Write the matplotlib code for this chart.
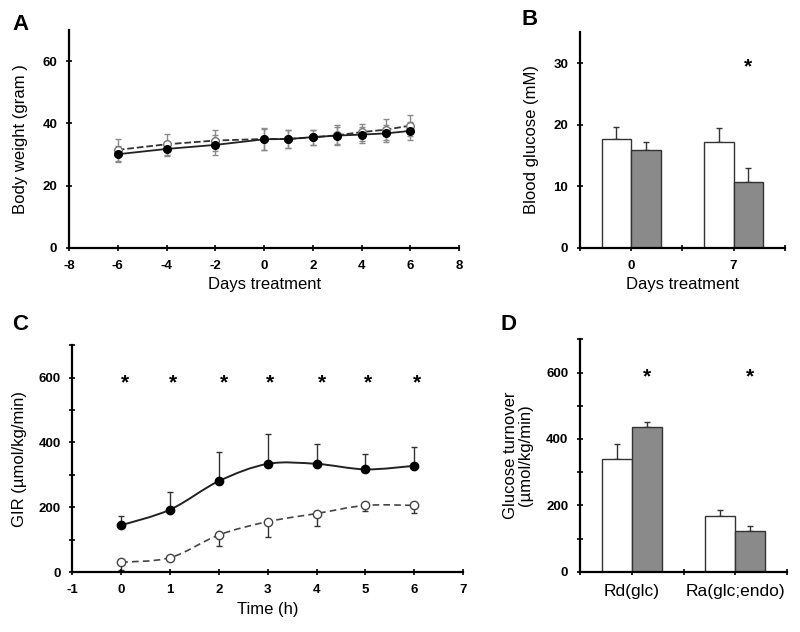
import matplotlib
matplotlib.use("Agg")
import matplotlib.pyplot as plt
import numpy as np
from matplotlib.path import Path
from matplotlib.patches import PathPatch
from matplotlib.ticker import MultipleLocator

plt.rcParams['font.family'] = ['Liberation Sans', 'DejaVu Sans']
plt.rcParams['axes.unicode_minus'] = False

# ---------------- Data ----------------
# Panel A: body weight
days_a = [-6, -4, -2, 0, 1, 2, 3, 4, 5, 6]
bw_open = [31.5, 33.3, 34.5, 35.0, 35.0, 35.5, 36.2, 37.2, 38.0, 39.3]
bw_open_err = [3.5, 3.4, 3.3, 3.4, 2.8, 2.5, 3.2, 2.7, 3.3, 3.5]
bw_filled = [30.1, 31.8, 33.1, 34.9, 35.0, 35.6, 36.1, 36.4, 36.8, 37.6]
bw_filled_err = [2.6, 2.3, 3.2, 3.4, 2.8, 2.4, 2.6, 2.6, 2.8, 2.8]

# Panel B: blood glucose
days_b = ['0', '7']
bg_white = [17.7, 17.2]
bg_white_err = [1.9, 2.3]
bg_gray = [15.8, 10.6]
bg_gray_err = [1.4, 2.4]

# Panel C: GIR
time_c = [0, 1, 2, 3, 4, 5, 6]
gir_filled = [145, 193, 281, 334, 334, 317, 328]
gir_filled_err = [27, 54, 91, 91, 62, 46, 57]
gir_open = [31, 45, 115, 156, 181, 206, 206]
gir_open_err = [25, 8, 33, 48, 37, 18, 24]
star_c_x = [0.07, 1.05, 2.1, 3.05, 4.1, 5.05, 6.05]

# Panel D: glucose turnover
turn_cats = ['Rd(glc)', 'Ra(glc;endo)']
turn_white = [338, 168]
turn_white_err = [46, 17]
turn_gray = [436, 122]
turn_gray_err = [15, 15]

GRAY = '#8a8a8a'
TICKSIZE = 9.5


def style_axes(ax):
    for s in ['top', 'right']:
        ax.spines[s].set_visible(False)
    for s in ['left', 'bottom']:
        ax.spines[s].set_linewidth(1.6)
    ax.tick_params(axis='both', which='both', direction='inout', length=5,
                   width=1.2, labelsize=TICKSIZE, pad=6)
    ax.tick_params(axis='both', which='minor', length=4)
    for lab in ax.get_xticklabels() + ax.get_yticklabels():
        lab.set_fontweight('bold')


def smooth_path(x, y):
    x = np.asarray(x, float)
    y = np.asarray(y, float)
    pts = np.column_stack([x, y])
    n = len(pts)
    verts = [pts[0]]
    codes = [Path.MOVETO]
    for i in range(n - 1):
        p0 = pts[i - 1] if i > 0 else pts[i]
        p1 = pts[i]
        p2 = pts[i + 1]
        p3 = pts[i + 2] if i + 2 < n else pts[i + 1]
        c1 = p1 + (p2 - p0) / 6.0
        c2 = p2 - (p3 - p1) / 6.0
        verts += [c1, c2, p2]
        codes += [Path.CURVE4] * 3
    return Path(verts, codes)


def upper(vals):
    return [np.zeros(len(vals)), vals]


def lower(vals):
    return [vals, np.zeros(len(vals))]


fig = plt.figure(figsize=(8, 6.32), dpi=100)
EB = dict(fmt='none', ecolor='#333333', elinewidth=1.0, capsize=2.5, capthick=1.0, zorder=1)

# ---------------- Panel A ----------------
axA = fig.add_axes([0.08625, 0.6076, 0.4877, 0.345])
axA.errorbar(days_a, bw_open, yerr=bw_open_err, fmt='none', ecolor='#8a8a8a',
             elinewidth=1.0, capsize=2, capthick=1.0, zorder=1)
axA.errorbar(days_a, bw_filled, yerr=bw_filled_err, fmt='none', ecolor='#8a8a8a',
             elinewidth=1.0, capsize=2, capthick=1.0, zorder=1)
axA.plot(days_a, bw_open, linestyle='--', color='#333333', lw=1.3, marker='o',
         markersize=5.5, markerfacecolor='white', markeredgecolor='#777777',
         markeredgewidth=1.0, zorder=2)
axA.plot(days_a, bw_filled, linestyle='-', color='#222222', lw=1.3, marker='o',
         markersize=5.5, markerfacecolor='black', markeredgecolor='black', zorder=3)
axA.set_xlim(-8, 8)
axA.set_ylim(0, 70)
axA.set_xticks(range(-8, 9, 2))
axA.set_yticks([0, 20, 40, 60])
axA.set_xlabel('Days treatment', fontsize=12)
axA.set_ylabel('Body weight (gram )', fontsize=12, labelpad=10)
style_axes(axA)

# ---------------- Panel B ----------------
axB = fig.add_axes([0.725, 0.608, 0.256, 0.341])
w = 0.29
xb = np.arange(len(days_b))
axB.bar(xb - w / 2, bg_white, w, color='white', edgecolor='#333333', lw=1.0, zorder=2)
axB.errorbar(xb - w / 2, bg_white, yerr=upper(bg_white_err), **EB)
axB.bar(xb + w / 2, bg_gray, w, color=GRAY, edgecolor='#333333', lw=1.0, zorder=2)
axB.errorbar(xb + w / 2, bg_gray, yerr=upper(bg_gray_err), **EB)
axB.set_xlim(-0.5, 1.5)
axB.set_ylim(0, 35)
axB.set_yticks([0, 10, 20, 30])
axB.set_xticks(xb)
axB.set_xticklabels(days_b)
axB.xaxis.set_minor_locator(MultipleLocator(0.5))
axB.text(1 + w / 2, 29.3, '*', ha='center', va='center', fontsize=15, fontweight='bold')
axB.set_xlabel('Days treatment', fontsize=12)
axB.set_ylabel('Blood glucose (mM)', fontsize=12, labelpad=10)
style_axes(axB)

# ---------------- Panel C ----------------
axC = fig.add_axes([0.0904, 0.0945, 0.4886, 0.3595])
axC.errorbar(time_c, gir_filled, yerr=upper(gir_filled_err), **EB)
axC.errorbar(time_c, gir_open, yerr=lower(gir_open_err), **EB)
axC.add_patch(PathPatch(smooth_path(time_c, gir_filled), fill=False, edgecolor='#222222',
                        lw=1.4, zorder=2))
axC.add_patch(PathPatch(smooth_path(time_c, gir_open), fill=False, edgecolor='#444444',
                        lw=1.2, linestyle=(0, (4, 2.5)), zorder=2))
axC.plot(time_c, gir_filled, linestyle='none', marker='o', markersize=6,
         markerfacecolor='black', markeredgecolor='black', zorder=3)
axC.plot(time_c, gir_open, linestyle='none', marker='o', markersize=6,
         markerfacecolor='white', markeredgecolor='#444444', markeredgewidth=1.0, zorder=3)
for sx in star_c_x:
    axC.text(sx, 585, '*', ha='center', va='center', fontsize=15, fontweight='bold')
axC.set_xlim(-1, 7)
axC.set_ylim(0, 700)
axC.set_xticks(range(-1, 8))
axC.set_yticks([0, 200, 400, 600])
axC.yaxis.set_minor_locator(MultipleLocator(100))
axC.set_xlabel('Time (h)', fontsize=12)
axC.set_ylabel('GIR (µmol/kg/min)', fontsize=12, labelpad=8)
style_axes(axC)

# ---------------- Panel D ----------------
axD = fig.add_axes([0.725, 0.0954, 0.259, 0.3677])
xd = np.arange(len(turn_cats))
axD.bar(xd - w / 2, turn_white, w, color='white', edgecolor='#333333', lw=1.0, zorder=2)
axD.errorbar(xd - w / 2, turn_white, yerr=upper(turn_white_err), **EB)
axD.bar(xd + w / 2, turn_gray, w, color=GRAY, edgecolor='#333333', lw=1.0, zorder=2)
axD.errorbar(xd + w / 2, turn_gray, yerr=upper(turn_gray_err), **EB)
for xi in xd:
    axD.text(xi + w / 2, 588, '*', ha='center', va='center', fontsize=15, fontweight='bold')
axD.set_xlim(-0.5, 1.5)
axD.set_ylim(0, 700)
axD.set_yticks([0, 200, 400, 600])
axD.yaxis.set_minor_locator(MultipleLocator(100))
axD.set_xticks(xd)
axD.set_xticklabels(turn_cats)
axD.xaxis.set_minor_locator(MultipleLocator(0.5))
axD.set_ylabel('Glucose turnover\n(µmol/kg/min)', fontsize=12, linespacing=1.0, labelpad=9)
style_axes(axD)
for lab in axD.get_xticklabels():
    lab.set_fontweight('normal')
    lab.set_fontsize(12.5)

# Panel letters
for lbl, x, y in [('A', 0.016, 0.978), ('B', 0.652, 0.985), ('C', 0.015, 0.503), ('D', 0.625, 0.503)]:
    fig.text(x, y, lbl, fontsize=16, fontweight='bold', ha='left', va='top')

fig.savefig('out.png', dpi=100)
